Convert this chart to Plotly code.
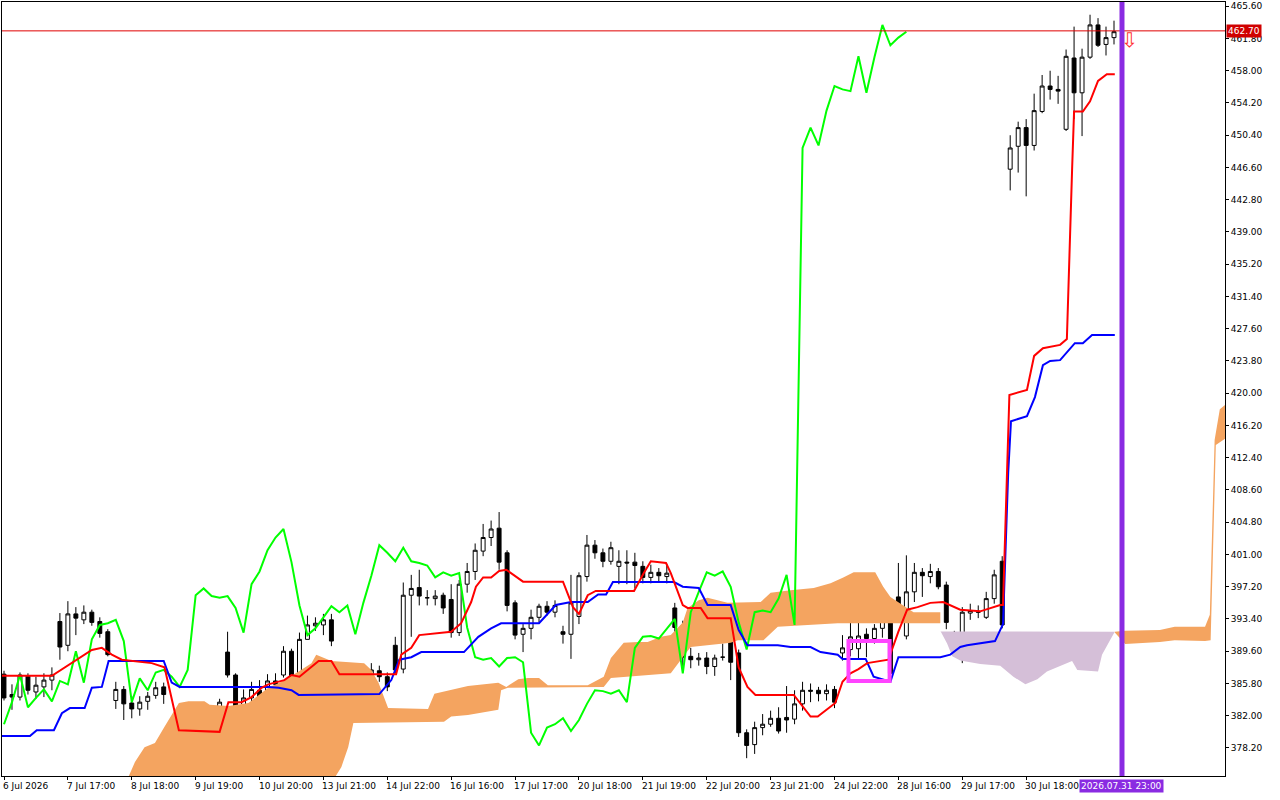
import plotly.graph_objects as go

# candles, one per bar (index 0..139)
opens = [386.9, 384.5, 384.2, 386.7, 384.8, 385.4, 386.2, 393.1, 390.3, 394.0,
         393.3, 394.2, 393.1, 391.9, 383.8, 385.1, 383.5, 382.8, 383.7, 384.4,
         385.4, 375.8, 378.4, 377.1, 380.2, 379.7, 380.8, 381.0, 389.5, 386.8,
         383.2, 384.1, 385.0, 383.8, 386.1, 386.8, 389.6, 385.9, 391.0, 392.6,
         392.7, 393.3, 381.0, 383.4, 386.2, 385.0, 386.9, 387.3, 386.6, 390.3,
         387.5, 396.2, 397.1, 395.9, 395.8, 396.2, 395.7, 391.8, 397.5, 399.0,
         401.4, 403.0, 404.1, 401.2, 395.3, 391.6, 392.3, 393.6, 394.9, 394.2,
         391.9, 391.6, 393.7, 398.4, 402.1, 401.2, 400.2, 399.6, 400.1, 400.1,
         399.6, 398.3, 398.9, 398.4, 394.7, 392.6, 389.0, 388.6, 388.8, 387.8,
         388.9, 391.4, 389.4, 380.0, 378.6, 380.6, 381.0, 381.7, 381.8, 381.6,
         383.4, 385.0, 385.0, 384.6, 385.1, 389.4, 389.8, 389.9, 391.6, 391.1,
         392.3, 393.4, 396.0, 391.4, 396.6, 398.9, 398.4, 399.0, 397.4, 391.0,
         389.8, 394.1, 394.3, 393.6, 395.8, 400.2, 446.4, 449.1, 451.3, 449.2,
         453.2, 456.2, 455.8, 451.1, 459.5, 455.4, 459.6, 463.4, 461.1, 461.9]
highs = [387.3, 385.7, 387.1, 387.0, 386.6, 387.0, 387.7, 394.1, 395.5, 394.8,
         395.0, 394.5, 393.6, 392.2, 386.0, 385.5, 384.3, 384.3, 384.8, 386.0,
         385.9, 378.5, 379.1, 380.9, 380.5, 381.3, 381.5, 384.0, 391.9, 387.0,
         385.1, 386.0, 386.2, 386.9, 387.0, 390.2, 389.9, 391.8, 393.8, 393.6,
         394.0, 394.0, 384.3, 387.5, 387.0, 387.9, 388.2, 387.9, 387.1, 391.3,
         397.7, 398.6, 399.2, 396.8, 396.8, 396.5, 397.5, 398.0, 400.0, 402.3,
         404.6, 405.0, 406.0, 401.5, 395.6, 392.8, 394.5, 395.2, 395.5, 395.6,
         392.6, 398.6, 398.9, 403.3, 402.7, 401.7, 402.5, 401.5, 401.5, 401.2,
         400.2, 399.8, 399.4, 399.9, 395.3, 393.2, 390.0, 389.4, 389.5, 389.2,
         390.5, 392.3, 389.8, 380.4, 381.3, 382.2, 382.6, 383.0, 385.5, 385.0,
         386.0, 385.8, 385.4, 385.7, 385.5, 391.5, 393.8, 394.0, 392.3, 392.8,
         393.8, 393.8, 400.0, 400.9, 400.0, 399.4, 399.9, 399.4, 397.8, 392.0,
         394.8, 395.2, 395.0, 396.6, 399.2, 400.8, 450.4, 452.0, 452.3, 455.3,
         457.5, 458.0, 457.4, 460.5, 463.2, 460.6, 464.6, 464.2, 463.2, 463.9]
lows = [383.8, 382.7, 383.8, 384.5, 384.0, 384.2, 385.0, 388.6, 389.6, 391.5,
        392.8, 392.6, 391.2, 389.0, 382.8, 381.5, 381.7, 382.0, 382.7, 384.0,
        383.4, 375.5, 375.3, 377.0, 379.2, 379.2, 380.4, 380.5, 386.5, 381.9,
        381.5, 383.5, 383.2, 383.0, 385.4, 386.5, 383.5, 384.8, 391.0, 392.0,
        391.5, 390.2, 379.7, 382.5, 383.0, 384.3, 386.5, 386.0, 384.9, 387.0,
        387.0, 391.3, 395.0, 395.0, 395.0, 394.0, 391.2, 391.4, 396.5, 398.0,
        400.8, 402.0, 399.2, 394.3, 391.0, 389.5, 391.0, 393.0, 393.8, 393.6,
        390.5, 388.7, 392.8, 397.8, 400.5, 399.5, 399.8, 397.5, 397.5, 397.0,
        397.6, 397.6, 397.8, 397.6, 391.8, 387.3, 387.6, 387.9, 386.9, 386.7,
        388.5, 386.2, 379.5, 377.0, 377.5, 379.7, 380.7, 379.9, 380.0, 381.0,
        382.6, 383.6, 383.7, 383.8, 382.9, 388.5, 389.0, 388.7, 388.9, 390.5,
        391.2, 386.0, 394.0, 391.0, 395.4, 396.0, 397.6, 396.9, 392.2, 389.0,
        388.2, 393.3, 393.5, 393.4, 395.2, 392.3, 443.9, 446.0, 443.2, 448.6,
        453.0, 454.6, 454.1, 450.9, 452.3, 450.3, 459.4, 460.8, 459.8, 461.1]
closes = [384.1, 384.2, 386.8, 385.0, 385.6, 386.2, 386.8, 390.1, 394.0, 393.5,
          394.2, 393.0, 391.7, 389.2, 385.1, 383.4, 382.8, 383.6, 384.3, 385.3,
          384.5, 378.2, 377.1, 380.1, 379.7, 380.6, 381.0, 383.6, 386.8, 383.0,
          384.1, 385.1, 383.7, 386.1, 385.7, 389.6, 385.9, 391.0, 392.7, 392.9,
          393.3, 390.8, 383.6, 386.4, 385.0, 387.1, 387.4, 386.6, 385.4, 387.4,
          396.2, 397.0, 396.1, 395.9, 396.1, 394.7, 391.8, 397.5, 399.0, 401.5,
          403.0, 404.0, 400.1, 395.0, 391.5, 392.3, 393.6, 394.9, 394.2, 395.0,
          391.6, 395.3, 398.5, 402.1, 401.2, 400.2, 401.8, 400.2, 400.0, 399.7,
          398.3, 398.9, 398.5, 398.8, 392.4, 388.9, 388.6, 388.8, 387.8, 388.8,
          388.9, 388.3, 380.0, 378.5, 380.6, 381.0, 381.7, 380.2, 381.5, 383.4,
          385.0, 384.9, 384.6, 385.0, 383.6, 390.0, 391.3, 391.4, 391.1, 392.3,
          393.4, 387.0, 394.2, 396.6, 398.9, 398.5, 399.0, 397.2, 393.0, 389.8,
          394.2, 394.4, 394.2, 395.8, 398.6, 392.7, 448.9, 451.3, 449.2, 453.3,
          456.2, 455.8, 455.6, 459.7, 455.4, 459.6, 463.4, 461.0, 461.9, 462.6]
bars = list(range(len(closes)))

# Tenkan-sen (red) vertices: bar, price
tenkan_x = [-0.25, 6, 11, 12.25, 13.5, 14.75, 18.5, 20.1, 21.9, 27, 28.1, 29.75, 31, 32.25,
            33.1, 35.1, 36, 37, 39.4, 41, 42, 49.1, 49.75, 51, 52, 56, 57.25, 58.5, 59.1,
            60, 61, 62, 62.9, 65, 70, 71.25, 72, 73.1, 74.1, 78.9, 80.1, 81, 82.9, 83.5,
            85, 85.6, 87.25, 88.1, 91, 92, 93.1, 94.1, 98.9, 101, 101.9, 104.1, 105, 106,
            107, 108.1, 110.75, 112, 113.1, 114.4, 116, 117.6, 119.75, 122.25, 124.75,
            125.1, 125.9, 128.1, 129, 130.1, 132.25, 133.1, 133.75, 134, 135.1, 136, 137,
            138.1, 139.1]
tenkan_y = [386.7, 386.7, 389.75, 390.0, 389.2, 388.6, 388.2, 387.7, 380.3, 380.1, 383.6,
            383.6, 384.2, 385.3, 385.7, 386.2, 386.8, 386.6, 388.45, 388.45, 386.9, 386.9,
            389.2, 390.0, 391.5, 391.9, 392.9, 395.4, 397.2, 398.3, 398.3, 399.05, 399.2,
            397.8, 397.8, 394.8, 394.0, 396.2, 396.7, 396.7, 398.8, 400.2, 400.0, 398.8,
            395.05, 394.7, 394.7, 393.5, 393.5, 387.7, 385.4, 384.45, 384.45, 381.9, 381.9,
            383.5, 386.0, 387.0, 387.5, 388.2, 388.6, 391.9, 394.5, 394.8, 395.3, 395.4,
            394.5, 394.3, 395.05, 395.05, 419.8, 420.4, 424.4, 425.3, 425.7, 426.4, 446.3,
            453.2, 453.2, 454.4, 456.8, 457.6, 457.6]

# Kijun-sen (blue)
kijun_x = [-0.25, 3.25, 4.1, 6.25, 7.25, 8.25, 10.1, 11, 12.25, 13.1, 20, 21, 22, 33.1, 34.4,
           36, 36.9, 47, 48.5, 49.5, 51, 52.25, 57.6, 59.4, 61, 62.25, 67, 69.1, 71, 73.1,
           74.4, 75.4, 76.25, 83.9, 85, 87, 88.1, 91, 92, 93.1, 96.9, 98.5, 101, 102.25,
           104.4, 105, 107.9, 108.9, 111, 112, 117.25, 118.5, 119.75, 120.6, 124.1, 125.1,
           125.75, 126.1, 128.1, 129.1, 130.1, 131, 132.25, 134.1, 135.1, 136.25, 139.1]
kijun_y = [379.6, 379.6, 380.3, 380.3, 382.3, 382.9, 382.9, 385.3, 385.4, 388.45, 388.45,
           385.9, 385.4, 385.4, 385.3, 385.0, 384.45, 384.55, 386.2, 388.6, 388.9, 389.5,
           389.5, 391.3, 392.3, 392.9, 392.9, 395.05, 395.4, 395.4, 396.3, 396.3, 397.75,
           397.75, 397.2, 397.05, 395.05, 395.05, 392.1, 390.3, 390.3, 390.1, 390.1, 389.5,
           389.2, 388.7, 388.7, 386.6, 386.0, 388.9, 388.9, 389.2, 390.1, 390.3, 390.8,
           392.8, 410.6, 416.7, 417.3, 419.55, 423.3, 423.8, 423.9, 425.9, 425.9, 426.85,
           426.85]

# Kumo boundaries (orange where span A is above span B, purple otherwise)
kumo1_top_x = [15.4, 16.4, 17.6, 18.9, 20.1, 21.9, 23.1, 25.1, 25.75, 28.1, 30.6, 31.9, 33.1,
               34.75, 36.9, 38.5, 39.1, 41, 45.1, 46, 46.9, 48.1, 53.1, 53.9, 57.25, 58.1,
               61.9, 62.9, 64.4, 65.6, 67, 68.1, 73.1, 75.1, 76, 77.6, 79.4, 80.6, 82.25,
               83.5, 85, 85.6, 87, 88.1, 90.6, 94.75, 96, 98.5, 101.4, 103.5, 105.1, 106.4,
               109.1, 110.1, 111, 113.9, 117.25]
kumo1_top_y = [374.4, 376.55, 378.3, 378.8, 380.7, 383.5, 383.7, 383.7, 383.3, 383.15, 383.5,
               384.45, 385.3, 386.0, 387.2, 388.2, 389.2, 388.45, 388.2, 387.4, 385.9, 382.9,
               382.8, 384.6, 385.3, 385.5, 385.9, 385.4, 386.3, 386.45, 386.45, 385.6, 385.6,
               386.6, 388.8, 390.6, 390.7, 390.7, 391.3, 391.5, 393.0, 394.7, 395.6, 395.9,
               395.3, 395.4, 396.5, 396.8, 397.05, 397.6, 398.3, 398.9, 398.9, 397.2, 396.0,
               394.2, 394.2]
kumo1_bot_x = [15.4, 41.4, 42.25, 43.1, 43.75, 55.1, 56, 58.1, 61.9, 62.25, 63.1, 75.1, 76,
               83.5, 85, 86, 91, 91.9, 95.1, 96.9, 100.6, 104.4, 117.25]
kumo1_bot_y = [374.4, 374.67, 375.97, 378.3, 381.15, 381.3, 381.9, 382.1, 382.7, 385.0, 385.3,
               385.4, 386.45, 387.0, 388.9, 390.1, 390.6, 390.9, 390.9, 392.5, 392.7, 392.9,
               392.9]
kumo2_top_x = [117.25, 139.1]
kumo2_top_y = [391.95, 391.9]
kumo2_bot_x = [117.25, 118.1, 118.75, 119.75, 122.25, 124.75, 126.4, 127.9, 129.4, 130.6,
               132.25, 133.75, 134.4, 137, 137.5, 138.5, 139.1]
kumo2_bot_y = [392.0, 390.5, 389.0, 388.5, 388.1, 387.9, 386.6, 385.7, 386.3, 387.2, 387.9,
               388.45, 387.4, 387.2, 389.2, 390.9, 391.9]
kumo3_top_x = [139.1, 140.4, 144.75, 146.6, 150.4, 151, 151.6, 152.25, 153]
kumo3_top_y = [391.9, 392.0, 392.1, 392.5, 392.5, 393.9, 414.5, 418.1, 418.7]
kumo3_bot_x = [139.1, 140.4, 144.75, 146.6, 150.4, 151.1, 151.75, 153]
kumo3_bot_y = [391.8, 390.45, 390.7, 390.9, 390.8, 390.9, 413.9, 414.7]

tick_bars = [0, 8, 16, 24, 32, 40, 48, 56, 64, 72, 80, 88, 96, 104, 112, 120, 128]
tick_labels = ["6 Jul 2026", "7 Jul 17:00", "8 Jul 18:00", "9 Jul 19:00", "10 Jul 20:00",
               "13 Jul 21:00", "14 Jul 22:00", "16 Jul 16:00", "17 Jul 17:00", "20 Jul 18:00",
               "21 Jul 19:00", "22 Jul 20:00", "23 Jul 21:00", "24 Jul 22:00", "28 Jul 16:00",
               "29 Jul 17:00", "30 Jul 18:00"]
price_ticks = [378.2 + 3.8 * k for k in range(24)]
last_price = 462.70
cursor_bar = 140
cursor_label = "2026.07.31 23:00"
box_bars = [105.75, 110.9]
box_prices = [386.1, 390.8]

ORANGE = "#F4A460"
PURPLE = "#D5BFD8"

fig = go.Figure()


def kumo(tx, ty, bx, by, color):
    fig.add_trace(go.Scatter(x=tx + bx[::-1], y=ty + by[::-1], fill="toself",
                             fillcolor=color, line=dict(width=0), mode="lines",
                             hoverinfo="skip", showlegend=False))


kumo(kumo1_top_x, kumo1_top_y, kumo1_bot_x, kumo1_bot_y, ORANGE)
kumo(kumo2_top_x, kumo2_top_y, kumo2_bot_x, kumo2_bot_y, PURPLE)
kumo(kumo3_top_x, kumo3_top_y, kumo3_bot_x, kumo3_bot_y, ORANGE)

fig.add_trace(go.Candlestick(
    x=bars, open=opens, high=highs, low=lows, close=closes,
    increasing=dict(line=dict(color="black", width=1), fillcolor="white"),
    decreasing=dict(line=dict(color="black", width=1), fillcolor="black"),
    whiskerwidth=0, showlegend=False, hoverinfo="skip"))

# Chikou span: close plotted 26 bars back
fig.add_trace(go.Scatter(x=bars[:len(closes) - 26], y=closes[26:], mode="lines",
                         line=dict(color="#00FF00", width=2), showlegend=False))
fig.add_trace(go.Scatter(x=kijun_x, y=kijun_y, mode="lines",
                         line=dict(color="#0000FF", width=2), showlegend=False))
fig.add_trace(go.Scatter(x=tenkan_x, y=tenkan_y, mode="lines",
                         line=dict(color="#FF0000", width=2), showlegend=False))

fig.add_hline(y=last_price, line=dict(color="#E00000", width=1))
fig.add_vline(x=cursor_bar, line=dict(color="#8A2BE2", width=5))
fig.add_shape(type="rect", x0=box_bars[0], x1=box_bars[1], y0=box_prices[0], y1=box_prices[1],
              line=dict(color="#FF44FF", width=4))

fig.add_annotation(x=cursor_bar + 1, y=461.6, text="⇩", showarrow=False,
                   font=dict(size=20, color="#FF3030"))
fig.add_annotation(xref="paper", x=1.0, y=last_price, text=f"{last_price:.2f}", showarrow=False,
                   xanchor="left", xshift=1, bgcolor="#D00000",
                   font=dict(size=9, color="white", family="DejaVu Sans"))
for b, t in zip(tick_bars, tick_labels):
    fig.add_annotation(x=b, yref="paper", y=0, yanchor="top", yshift=-3, xanchor="left",
                       xshift=-3, text=t, showarrow=False,
                       font=dict(size=9, color="black", family="DejaVu Sans"))
fig.add_annotation(x=cursor_bar, yref="paper", y=0, yanchor="top", yshift=-3,
                   text=cursor_label, showarrow=False, bgcolor="#8A2BE2",
                   font=dict(size=9, color="white", family="DejaVu Sans"))

fig.update_layout(
    width=1280, height=800, margin=dict(l=2, r=55, t=2, b=24),
    paper_bgcolor="white", plot_bgcolor="white",
    xaxis=dict(range=[-0.25, 152.9], rangeslider=dict(visible=False), showgrid=False,
               zeroline=False, tickvals=tick_bars, ticktext=[""] * len(tick_bars),
               ticks="outside", ticklen=3, tickcolor="black",
               showline=True, linecolor="black", mirror=True),
    yaxis=dict(range=[374.9, 466.1], side="right", showgrid=False, zeroline=False,
               tickvals=price_ticks, ticktext=[f"{v:.2f}" for v in price_ticks],
               ticks="outside", ticklen=3, tickcolor="black",
               tickfont=dict(size=9, color="black", family="DejaVu Sans"),
               showline=True, linecolor="black", mirror=True),
    font=dict(family="DejaVu Sans"),
)

fig.write_html("out.html", config={"displayModeBar": False},
               post_script="document.body.style.margin='0';")
